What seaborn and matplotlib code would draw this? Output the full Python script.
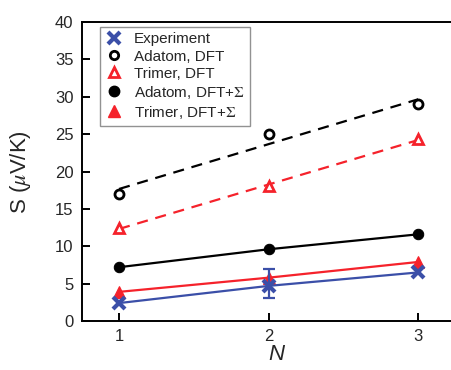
import numpy as np
import matplotlib
matplotlib.use("Agg")
import matplotlib.pyplot as plt
from matplotlib.lines import Line2D
import seaborn as sns

# ---- data ----
N = [1, 2, 3]
experiment = [2.4, 4.7, 6.5]
experiment_err_low = [0.0, 1.6, 0.0]
experiment_err_high = [0.0, 2.2, 0.0]
adatom_dft = [17.0, 25.0, 29.0]
trimer_dft = [12.4, 18.1, 24.3]
adatom_dft_sigma = [7.2, 9.6, 11.6]
trimer_dft_sigma = [3.9, 5.8, 7.9]

labels = ["Experiment", "Adatom, DFT", "Trimer, DFT",
          r"Adatom, DFT+$\Sigma$", r"Trimer, DFT+$\Sigma$"]

BLUE = "#3B4FA8"
RED = "#F5222B"
BLACK = "#000000"

sns.set_style("ticks")
plt.rcParams["font.family"] = ["Liberation Sans", "DejaVu Sans"]
plt.rcParams["mathtext.fontset"] = "stix"

fig = plt.figure(figsize=(4.52, 3.70), dpi=100)
ax = fig.add_axes([0.181, 0.1324, 0.86, 0.808])

# dashed linear fits for DFT
sns.regplot(x=np.array(N), y=np.array(adatom_dft), ci=None, scatter=False, ax=ax,
            color=BLACK, line_kws=dict(ls=(0, (5, 3.5)), lw=1.6))
sns.regplot(x=np.array(N), y=np.array(trimer_dft), ci=None, scatter=False, ax=ax,
            color=RED, line_kws=dict(ls=(0, (5, 3.5)), lw=1.6))

# DFT points (open markers)
ax.plot(N, adatom_dft, ls="none", marker="o", ms=6.5, mfc="white", mec=BLACK, mew=2.0)
ax.plot(N, trimer_dft, ls="none", marker="^", ms=7.5, mfc="white", mec=RED, mew=2.0)

# DFT+Sigma lines
sns.lineplot(x=N, y=adatom_dft_sigma, ax=ax, color=BLACK, lw=1.6, marker="o",
             ms=7.5, mec=BLACK, mfc=BLACK)
sns.lineplot(x=N, y=trimer_dft_sigma, ax=ax, color=RED, lw=1.6, marker="^",
             ms=8.5, mec=RED, mfc=RED)

# experiment
sns.lineplot(x=N, y=experiment, ax=ax, color=BLUE, lw=1.6, marker="x",
             ms=8.5, mew=3.0, mec=BLUE)
ax.errorbar([N[1]], [experiment[1]],
            yerr=[[experiment_err_low[1]], [experiment_err_high[1]]],
            fmt="none", ecolor=BLUE, elinewidth=1.6, capsize=4.5, capthick=1.6)

ax.set_xlim(0.751, 3.35)
ax.set_ylim(0, 40)
ax.set_xticks(N)
ax.set_yticks(range(0, 41, 5))
ax.tick_params(direction="in", length=6, width=1.4, labelsize=12, pad=6, color="black")
for s in ["left", "bottom", "top"]:
    ax.spines[s].set_linewidth(1.4)
    ax.spines[s].set_color("black")
ax.spines["right"].set_visible(False)

ax.set_xlabel("N", fontsize=16, fontstyle="italic", labelpad=0)
ax.set_ylabel(r"S ($\mu$V/K)", fontsize=16, labelpad=16)

handles = [
    Line2D([], [], ls="none", marker="x", ms=8.5, mew=3.0, color=BLUE),
    Line2D([], [], ls="none", marker="o", ms=6, mfc="white", mec=BLACK, mew=2.0),
    Line2D([], [], ls="none", marker="^", ms=7.5, mfc="white", mec=RED, mew=2.0),
    Line2D([], [], ls="none", marker="o", ms=7.5, color=BLACK),
    Line2D([], [], ls="none", marker="^", ms=8.5, color=RED),
]
leg = ax.legend(handles, labels, loc="upper left", bbox_to_anchor=(0.046, 0.983),
                borderaxespad=0, fontsize=11, frameon=True, fancybox=False,
                edgecolor="#777777", handlelength=1.2, handletextpad=0.7,
                labelspacing=0.2, borderpad=0.35)
leg.get_frame().set_linewidth(1.0)

fig.savefig("out.png", dpi=100)
